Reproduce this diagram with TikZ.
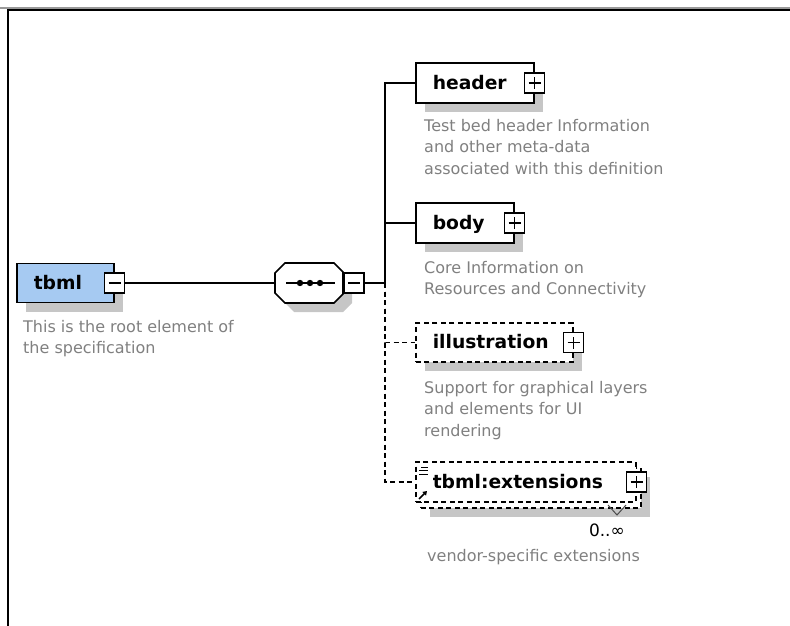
\documentclass[tikz,border=0pt]{standalone}
\usepackage{fontspec}
\setmainfont{DejaVu Sans}
\usetikzlibrary{shadows,arrows.meta}
\definecolor{rootblue}{RGB}{166,202,242}
\definecolor{shadowgray}{RGB}{198,198,198}
\definecolor{descgray}{RGB}{128,128,128}
\newcommand\lblfont{\fontsize{18.7pt}{22pt}\selectfont\bfseries}
\newcommand\descfont{\fontsize{16pt}{21.5pt}\selectfont}
\tikzset{
  dropsh/.style   = {drop shadow={shadow xshift=9pt, shadow yshift=-9pt, fill=shadowgray, opacity=1}},
  elembox/.style  = {draw=black, fill=white, line width=1.6pt, anchor=west, minimum height=40pt,
                     inner xsep=17pt, inner ysep=0pt, text height=15pt, text depth=3pt, align=left, font=\lblfont},
  elem/.style     = {elembox, dropsh},
  elemopt/.style  = {elem, dash pattern=on 5pt off 3.5pt},
  pmbox/.style    = {draw=black, fill=white, line width=1.3pt, minimum size=20pt, inner sep=0pt},
  pmplus/.style   = {pmbox, path picture={
                       \draw[line width=1.2pt] ([xshift=-6pt]path picture bounding box.center) -- ([xshift=6pt]path picture bounding box.center);
                       \draw[line width=1.2pt] ([yshift=-6pt]path picture bounding box.center) -- ([yshift=6pt]path picture bounding box.center);}},
  pmminus/.style  = {pmbox, path picture={
                       \draw[line width=1.2pt] ([xshift=-6pt]path picture bounding box.center) -- ([xshift=6pt]path picture bounding box.center);}},
  desc/.style     = {font=\descfont, text=descgray, anchor=base west, inner sep=0pt},
  conn/.style     = {draw=black, line width=1.3pt},
  connopt/.style  = {conn, dash pattern=on 5pt off 3.5pt},
}
\begin{document}
\begin{tikzpicture}[x=1pt,y=-1pt]
  \useasboundingbox (0,0) rectangle (790,626);
  % frame
  \draw[black!40, line width=1.2pt] (0,8) -- (790,8);
  \draw[black, line width=1.2pt] (8,626) -- (8,10) -- (790,10);

  % root element
  \node[elem, fill=rootblue, minimum height=39pt, text width=63pt] (tbml) at (16,283) {tbml};
  \node[pmminus] (tbmlpm) at (tbml.east) {};
  \node[desc] (td1) at (23,332) {This is the root element of};
  \node[desc] (td2) at (23,353.5) {the specification};

  % sequence compositor
  \node[minimum width=68pt, minimum height=40pt, inner sep=0pt] (seq) at (309,283) {};
  \fill[shadowgray, xshift=9pt, yshift=-9pt] (285,263) -- (334,263) -- (343,272) -- (343,294) -- (334,303) -- (285,303) -- (275,293) -- (275,273) -- cycle;
  \draw[fill=white, line width=1.6pt] (285,263) -- (334,263) -- (343,272) -- (343,294) -- (334,303) -- (285,303) -- (275,293) -- (275,273) -- cycle;
  \draw[line width=1.2pt] (286,283) -- (335,283);
  \foreach \dx in {300,310,320}
    \fill (\dx,283) circle (3.2pt);
  \node[pmminus, anchor=west] (seqpm) at (seq.east) {};

  % children
  \node[elem, text width=84pt] (header) at (415,83) {header};
  \node[pmplus] (headerpm) at (header.east) {};
  \node[desc] (hd1) at (424,131) {Test bed header Information};
  \node[desc] (hd2) at (424,152.5) {and other meta-data};
  \node[desc] (hd3) at (424,174) {associated with this definition};

  \node[elem, text width=64pt] (body) at (415,223) {body};
  \node[pmplus] (bodypm) at (body.east) {};
  \node[desc] (bd1) at (424,273) {Core Information on};
  \node[desc] (bd2) at (424,294.5) {Resources and Connectivity};

  \node[elemopt, minimum height=39pt, text width=123pt] (illus) at (415,342.5) {illustration};
  \node[pmplus] (illuspm) at (illus.east) {};
  \node[desc] (id1) at (424,393) {Support for graphical layers};
  \node[desc] (id2) at (424,414.5) {and elements for UI};
  \node[desc] (id3) at (424,436) {rendering};

  \node[elemopt, text width=186pt] (extback) at (420,488) {};
  \node[elembox, dash pattern=on 5pt off 3.5pt, text width=186pt] (ext) at (415,482) {tbml:extensions};
  \node[pmplus] (extpm) at (ext.east) {};
  \draw[line width=1pt] (421,467) -- (428,467) (419,470.5) -- (428,470.5) (419,474) -- (428,474);
  \draw[-{Triangle[length=4pt,width=5pt]}, line width=1.6pt] (419,499) -- (427,491);
  \draw[black!70, line width=1pt] (608,505) -- (617,515) -- (626,505);
  \node[font=\fontsize{17pt}{20pt}\selectfont, anchor=base east, inner sep=0pt] (extocc) at (625,536) {0..∞};
  \node[desc] (ed1) at (427,561) {vendor-specific extensions};

  % connectors
  \coordinate (fork) at (385,283);
  \draw[conn] (tbmlpm.east) -- (seq.west);
  \draw[conn] (seqpm.east) -- (fork);
  \draw[conn] (fork) |- (header.west);
  \draw[conn] (fork) |- (body.west);
  \draw[connopt] (fork) |- (illus.west);
  \draw[connopt] (fork) |- (ext.west);
\end{tikzpicture}
\end{document}
